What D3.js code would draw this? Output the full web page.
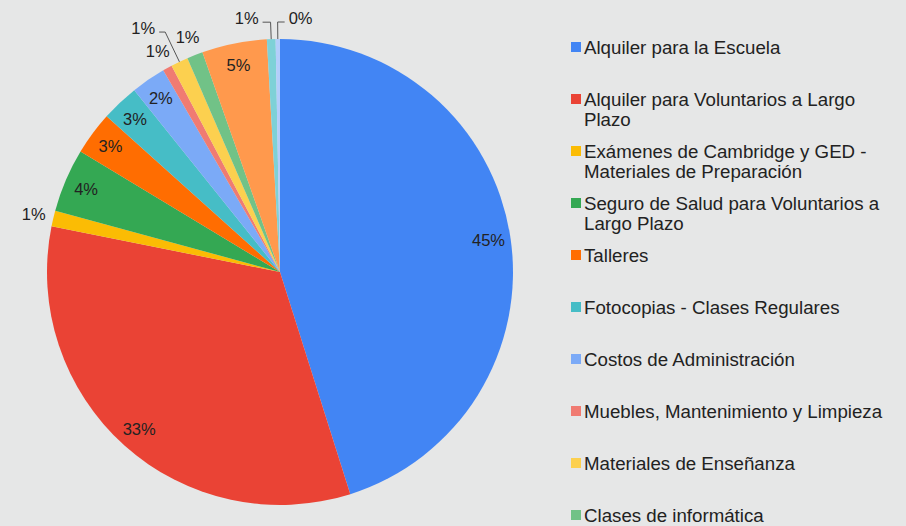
<!DOCTYPE html>
<html>
<head>
<meta charset="utf-8">
<script src="https://cdn.jsdelivr.net/npm/d3@7"></script>
<style>
  html, body { margin: 0; padding: 0; background: #e6e7e7; }
  svg { display: block; font-family: "Liberation Sans", Arial, sans-serif; }
</style>
</head>
<body>
<svg id="chart" width="906" height="526"></svg>
<script>
// shares (percent), clockwise from 12 o'clock
const shares = [45.1, 33.0, 1.1, 4.4, 3.0, 2.6, 2.4, 0.65, 1.2, 1.1, 4.5, 0.6, 0.3];
const colors = ["#4285f4", "#ea4335", "#fbbc04", "#34a853", "#ff6d01", "#46bdc6",
  "#7baaf7", "#f07b72", "#fcd04f", "#71c287", "#ff994d", "#7ed1d7", "#b3cefb"];
// only the first ten legend entries are visible, the rest is cut off
const legendNames = [
  "Alquiler para la Escuela",
  "Alquiler para Voluntarios a Largo Plazo",
  "Exámenes de Cambridge y GED - Materiales de Preparación",
  "Seguro de Salud para Voluntarios a Largo Plazo",
  "Talleres",
  "Fotocopias - Clases Regulares",
  "Costos de Administración",
  "Muebles, Mantenimiento y Limpieza",
  "Materiales de Enseñanza",
  "Clases de informática"
];

const svg = d3.select("#chart");
const cx = 280, cy = 272, R = 233;

const pie = d3.pie().sort(null).value(d => d);
const arcs = pie(shares);
const arc = d3.arc().innerRadius(0).outerRadius(R);

const g = svg.append("g").attr("transform", `translate(${cx},${cy})`);

g.selectAll("path.slice")
  .data(arcs)
  .enter()
  .append("path")
  .attr("class", "slice")
  .attr("d", arc)
  .attr("fill", (d, i) => colors[i]);

const fmt = v => Math.round(v) + "%";
const polar = (a, r) => [r * Math.sin(a), -r * Math.cos(a)];
const mid = d => (d.startAngle + d.endAngle) / 2;

// big slices: label inside
const inside = arcs.filter(d => d.value >= 2);
g.selectAll("text.in")
  .data(inside)
  .enter()
  .append("text")
  .attr("class", "in")
  .attr("x", d => polar(mid(d), 211)[0])
  .attr("y", d => polar(mid(d), 211)[1])
  .attr("text-anchor", "middle")
  .attr("dominant-baseline", "central")
  .attr("font-size", 16.5)
  .attr("fill", "#222")
  .text(d => fmt(d.value));

// small slices: label outside, some of them with a leader line
const leaders = { 8: { r: 266, dx: -6 }, 11: { r: 250, dx: -8 }, 12: { r: 250, dx: 7 } };
arcs.forEach((d, i) => {
  if (d.value >= 2) return;
  const a = mid(d);
  const L = leaders[i];
  if (!L) {
    const p = polar(a, 253);
    g.append("text")
      .attr("x", p[0]).attr("y", p[1])
      .attr("text-anchor", "middle")
      .attr("dominant-baseline", "central")
      .attr("font-size", 16.5)
      .attr("fill", "#222")
      .text(fmt(d.value));
    return;
  }
  const p0 = polar(a, R);
  const p1 = polar(a, L.r);
  const p2 = [p1[0] + L.dx, p1[1]];
  g.append("path")
    .attr("d", d3.line()([p0, p1, p2]))
    .attr("fill", "none")
    .attr("stroke", "#555")
    .attr("stroke-width", 1);
  g.append("text")
    .attr("x", p2[0] + (L.dx < 0 ? -4 : 4))
    .attr("y", p2[1] - 4)
    .attr("text-anchor", L.dx < 0 ? "end" : "start")
    .attr("dominant-baseline", "central")
    .attr("font-size", 16.5)
    .attr("fill", "#222")
    .text(fmt(d.value));
});

// legend
const legend = svg.append("g").attr("transform", "translate(571,47)");
const maxW = 315;
legendNames.forEach((name, i) => {
  const item = legend.append("g").attr("transform", `translate(0,${i * 52})`);
  item.append("rect")
    .attr("x", 0).attr("y", -5)
    .attr("width", 10).attr("height", 10)
    .attr("fill", colors[i]);
  const txt = item.append("text")
    .attr("x", 13)
    .attr("font-size", 18.7)
    .attr("fill", "#222")
    .attr("dominant-baseline", "central");
  // simple word wrap
  const words = name.split(" ");
  let line = [], lineNo = 0;
  let tspan = txt.append("tspan").attr("x", 13).attr("y", 0);
  words.forEach(w => {
    line.push(w);
    tspan.text(line.join(" "));
    if (tspan.node().getComputedTextLength() > maxW && line.length > 1) {
      line.pop();
      tspan.text(line.join(" "));
      line = [w];
      lineNo++;
      tspan = txt.append("tspan").attr("x", 13).attr("y", lineNo * 20).text(w);
    }
  });
});
</script>
</body>
</html>
